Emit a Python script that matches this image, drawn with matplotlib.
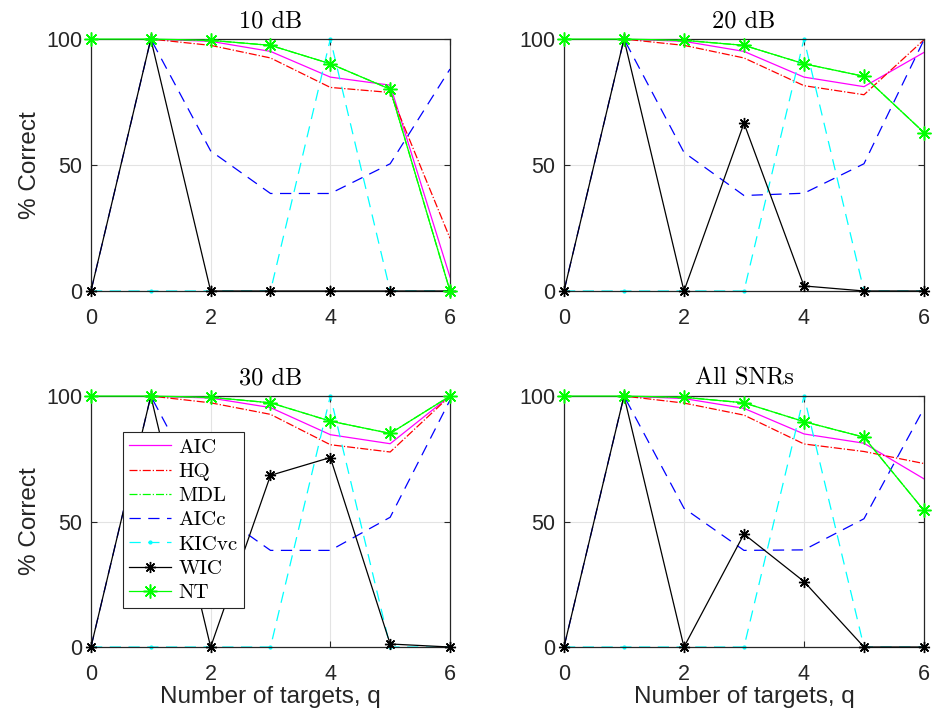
import matplotlib
matplotlib.use("Agg")
import matplotlib.pyplot as plt
import numpy as np

q = [0, 1, 2, 3, 4, 5, 6]
titles = ["10 dB", "20 dB", "30 dB", "All SNRs"]

# % correct per criterion, one list per panel (10, 20, 30 dB, all SNRs)
aic = [[100, 100, 99.1, 95.1, 84.9, 81.7, 5.5],
       [100, 100, 99.1, 95.1, 84.9, 81.1, 94.7],
       [100, 100, 99.2, 95.4, 84.6, 81.0, 100],
       [100, 100, 99.0, 95.1, 84.9, 81.2, 67.0]]
hq = [[100, 100, 97.5, 92.5, 80.8, 78.8, 20.9],
      [100, 100, 97.5, 92.5, 81.5, 77.9, 99.7],
      [100, 100, 97.3, 92.7, 80.6, 77.7, 100],
      [100, 100, 97.2, 92.4, 80.9, 77.9, 73.1]]
mdl = [[100, 100, 99.5, 97.5, 90.2, 80.1, 0],
       [100, 100, 99.5, 97.5, 90.2, 85.2, 62.9],
       [100, 100, 99.5, 97.3, 90.0, 85.1, 100],
       [100, 100, 99.5, 97.3, 89.8, 83.6, 54.4]]
aicc = [[0, 100, 55.6, 38.7, 38.7, 50.5, 88.1],
        [0, 100, 55.0, 37.9, 38.8, 50.5, 99.7],
        [0, 100, 55.3, 38.5, 38.5, 51.7, 98.4],
        [0, 100, 55.3, 38.5, 38.7, 51.1, 95.1]]
kicvc = [[0, 0, 0, 0, 100, 0, 0],
         [0, 0, 0, 0, 100, 0, 0],
         [0, 0, 0, 0, 100, 0, 0],
         [0, 0, 0, 0, 100, 0, 0]]
wic = [[0, 100, 0, 0, 0, 0, 0],
       [0, 100, 0, 66.6, 2.0, 0, 0],
       [0, 100, 0, 68.4, 75.5, 1.2, 0],
       [0, 100, 0, 45.0, 26.1, 0, 0]]
nt = [[100, 100, 99.5, 97.5, 90.2, 80.1, 0],
      [100, 100, 99.5, 97.5, 90.2, 85.2, 62.9],
      [100, 100, 99.5, 97.3, 90.0, 85.1, 100],
      [100, 100, 99.5, 97.3, 89.8, 83.6, 54.4]]

plt.rcParams['font.family'] = ['Liberation Sans', 'DejaVu Sans']
dark = '#262626'
star = (8, 2, 0)  # matlab-like asterisk

fig = plt.figure(figsize=(9.35, 7.26), dpi=100)
positions = [[0.0973, 0.5992, 0.384, 0.347],
             [0.6032, 0.5992, 0.385, 0.347],
             [0.0973, 0.1088, 0.384, 0.3457],
             [0.6032, 0.1088, 0.385, 0.3457]]

for i in range(4):
    ax = fig.add_axes(positions[i])
    ax.plot(q, aic[i], color='#ff00ff', lw=0.9, label='AIC')
    ax.plot(q, hq[i], color='red', lw=0.9, ls='-.', label='HQ')
    ax.plot(q, mdl[i], color='#00ff00', lw=0.9, ls='-.', label='MDL')
    ax.plot(q, aicc[i], color='blue', lw=0.9, ls=(0, (9, 6)), label='AICc')
    ax.plot(q, kicvc[i], color='cyan', lw=0.9, ls=(0, (9, 6)), marker='.',
            ms=4, label='KICvc', clip_on=False)
    ax.plot(q, wic[i], color='black', lw=0.9, marker=star, ms=8,
            mew=1.0, label='WIC', clip_on=False, zorder=6)
    ax.plot(q, nt[i], color='#00ff00', lw=0.9, marker=star, ms=10,
            mew=1.1, label='NT', clip_on=False, zorder=6)

    ax.set_xlim(0, 6)
    ax.set_ylim(0, 100)
    ax.set_xticks([0, 2, 4, 6])
    ax.set_yticks([0, 50, 100])
    ax.grid(True, color='#e3e3e3', lw=0.8)
    ax.set_axisbelow(True)
    ax.tick_params(direction='in', top=True, right=True, labelsize=15.5,
                   colors=dark, length=4, width=0.8)
    ax.tick_params(axis='x', pad=12)
    ax.tick_params(axis='y', pad=6)
    for s in ax.spines.values():
        s.set_color(dark)
        s.set_linewidth(0.9)
        s.set_zorder(5)
    ax.set_title(titles[i], family='cmr10', fontsize=17.5, pad=8)
    if i % 2 == 0:
        ax.set_ylabel('% Correct', fontsize=17.5, color=dark, labelpad=4)
    if i >= 2:
        ax.set_xlabel('Number of targets, q', fontsize=17.5, color=dark,
                      labelpad=1)
    if i == 2:
        leg = ax.legend(loc='upper left', bbox_to_anchor=(0.089, 0.857),
                        prop={'family': 'cmr10', 'size': 15},
                        fancybox=False, framealpha=1, edgecolor=dark,
                        borderpad=0.3, labelspacing=0.27, handlelength=2.0,
                        handletextpad=0.35, borderaxespad=0)
        leg.get_frame().set_linewidth(0.8)
        leg.set_zorder(10)

fig.savefig('out.png', dpi=100)
